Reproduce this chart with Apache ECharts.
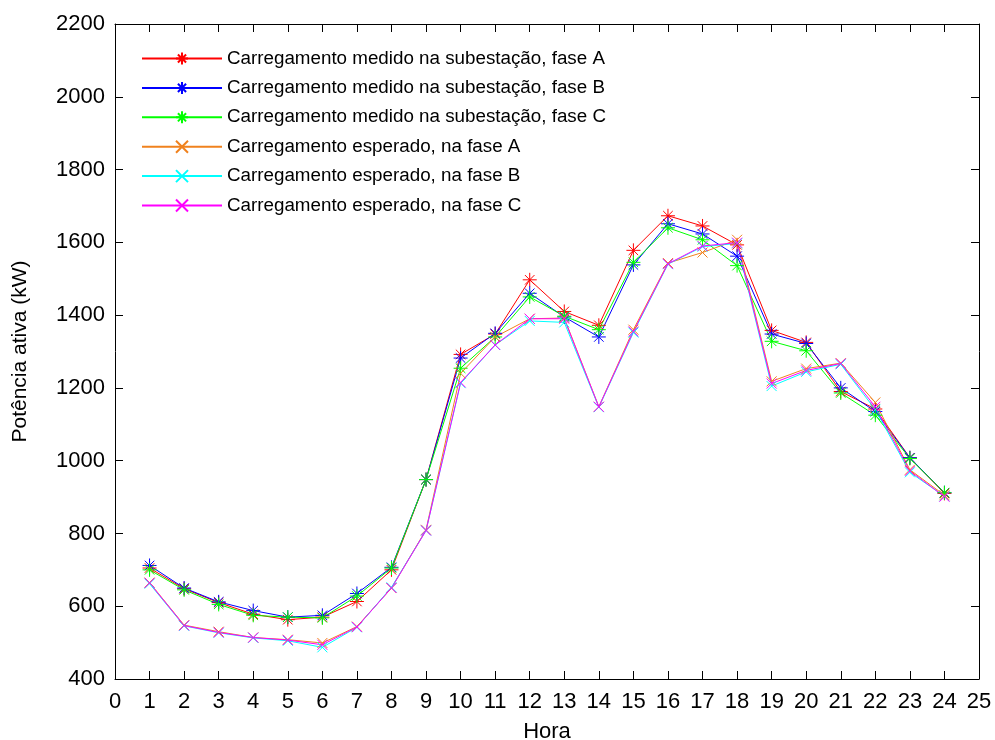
<!DOCTYPE html>
<html>
<head>
<meta charset="utf-8">
<script src="https://cdn.jsdelivr.net/npm/echarts@6/dist/echarts.min.js"></script>
<style>
  html, body { margin: 0; padding: 0; background: #fff; }
  #chart { width: 995px; height: 740px; }
</style>
</head>
<body>
<div id="chart"></div>
<script>
var horas = [1, 2, 3, 4, 5, 6, 7, 8, 9, 10, 11, 12, 13, 14, 15, 16, 17, 18, 19, 20, 21, 22, 23, 24];

var medidoA = [705, 648, 610, 578, 563, 570, 613, 700, 948, 1292, 1348, 1497, 1410, 1372, 1578, 1673, 1645, 1593, 1358, 1325, 1190, 1142, 1008, 910];
var medidoB = [712, 650, 612, 588, 570, 575, 635, 707, 948, 1282, 1350, 1460, 1395, 1340, 1538, 1651, 1623, 1562, 1348, 1322, 1200, 1135, 1008, 912];
var medidoC = [700, 645, 605, 575, 570, 568, 628, 705, 948, 1254, 1340, 1450, 1397, 1360, 1545, 1640, 1607, 1536, 1328, 1302, 1186, 1125, 1006, 912];
var esperadoA = [665, 548, 530, 514, 508, 499, 544, 650, 810, 1240, 1340, 1390, 1392, 1148, 1360, 1543, 1572, 1607, 1218, 1253, 1268, 1160, 975, 905];
var esperadoB = [662, 546, 527, 513, 505, 487, 542, 652, 808, 1213, 1318, 1384, 1380, 1147, 1352, 1540, 1588, 1597, 1205, 1244, 1265, 1140, 968, 902];
var esperadoC = [664, 547, 528, 514, 507, 494, 543, 650, 808, 1215, 1318, 1390, 1390, 1148, 1355, 1541, 1590, 1599, 1212, 1248, 1267, 1148, 972, 901];

var nomes = [
    'Carregamento medido na subestação, fase A',
    'Carregamento medido na subestação, fase B',
    'Carregamento medido na subestação, fase C',
    'Carregamento esperado, na fase A',
    'Carregamento esperado, na fase B',
    'Carregamento esperado, na fase C'
];
var cores = ['#ff0000', '#0000ff', '#00ff00', '#f0821e', '#00ffff', '#ff00ff'];

// marcadores estilo matlab: '*' e 'x'
var asterisco = 'path://M5,0L5,10M0,5L10,5M1.6,1.6L8.4,8.4M1.6,8.4L8.4,1.6';
var xis = 'path://M0,0L10,10M0,10L10,0';

var fonte = 'Liberation Sans, Arial, Helvetica, sans-serif';

function montaSerie(i, valores, simbolo, tamanho) {
    var pontos = horas.map(function (h, k) { return [h, valores[k]]; });
    return {
        name: nomes[i],
        type: 'line',
        data: pontos,
        symbol: simbolo,
        symbolSize: tamanho,
        showAllSymbol: true,
        animation: false,
        lineStyle: {color: cores[i], width: 1},
        itemStyle: {color: cores[i], borderColor: cores[i], borderWidth: 1},
        emphasis: {disabled: true}
    };
}

var chart = echarts.init(document.getElementById('chart'), null, {renderer: 'canvas'});

var eixoX = {
    type: 'value', min: 0, max: 25, interval: 1,
    axisLine: {show: true, onZero: false, lineStyle: {color: '#000', width: 1}},
    axisTick: {show: true, inside: true, length: 8, lineStyle: {color: '#000'}},
    splitLine: {show: false}
};
var eixoY = {
    type: 'value', min: 400, max: 2200, interval: 200,
    axisLine: {show: true, onZero: false, lineStyle: {color: '#000', width: 1}},
    axisTick: {show: true, inside: true, length: 8, lineStyle: {color: '#000'}},
    splitLine: {show: false}
};

var option = {
    backgroundColor: '#fff',
    textStyle: {fontFamily: fonte},
    grid: {left: 115, right: 16, top: 24, bottom: 61, containLabel: false, outerBoundsMode: 'none'},
    legend: {
        orient: 'vertical',
        left: 136,
        top: 44,
        itemWidth: 80,
        itemHeight: 15,
        itemGap: 10.4,
        itemTextGap: 8,
        textStyle: {fontFamily: fonte, fontSize: 18.8, color: '#000', lineHeight: 18},
        data: nomes
    },
    xAxis: [
        Object.assign({}, eixoX, {
            position: 'bottom',
            name: 'Hora',
            nameLocation: 'middle',
            nameGap: 42,
            nameTextStyle: {fontFamily: fonte, fontSize: 22, color: '#000'},
            axisLabel: {fontFamily: fonte, fontSize: 22, color: '#000', margin: 12}
        }),
        Object.assign({}, eixoX, {position: 'top', axisLabel: {show: false}})
    ],
    yAxis: [
        Object.assign({}, eixoY, {
            position: 'left',
            name: 'Potência ativa (kW)',
            nameLocation: 'middle',
            nameGap: 84,
            nameTextStyle: {fontFamily: fonte, fontSize: 21, color: '#000'},
            axisLabel: {
                fontFamily: fonte, fontSize: 22, color: '#000', margin: 10,
                formatter: function (v) { return String(v); }
            }
        }),
        Object.assign({}, eixoY, {position: 'right', axisLabel: {show: false}})
    ],
    series: [
        montaSerie(0, medidoA, asterisco, 14),
        montaSerie(1, medidoB, asterisco, 14),
        montaSerie(2, medidoC, asterisco, 14),
        montaSerie(3, esperadoA, xis, 10),
        montaSerie(4, esperadoB, xis, 10),
        montaSerie(5, esperadoC, xis, 10)
    ]
};

chart.setOption(option);
</script>
</body>
</html>
